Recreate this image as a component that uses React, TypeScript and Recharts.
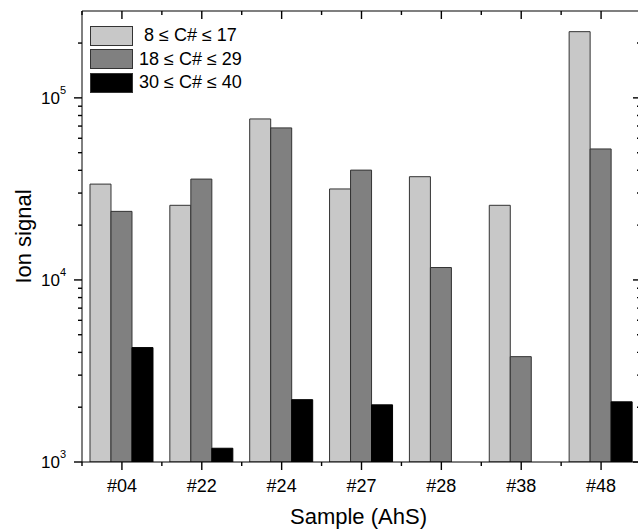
import { BarChart, Bar, XAxis, YAxis, Legend } from 'recharts'

const samples = ['#04', '#22', '#24', '#27', '#28', '#38', '#48']
const shortChain = [33600, 25700, 76600, 31600, 36900, 25700, 231000]
const midChain = [23800, 35800, 68400, 40100, 11700, 3790, 52400]
const longChain = [4250, 1190, 2200, 2060, null, null, 2140]

const seriesNames = [' 8 \u2264 C# \u2264 17', '18 \u2264 C# \u2264 29', '30 \u2264 C# \u2264 40']
const seriesColors = ['#c8c8c8', '#808080', '#000000']

const yTicks = [
  1000, 2000, 3000, 4000, 5000, 6000, 7000, 8000, 9000,
  10000, 20000, 30000, 40000, 50000, 60000, 70000, 80000, 90000,
  100000, 200000,
]

const data = samples.map((name, i) => ({
  name,
  s1: shortChain[i],
  s2: midChain[i],
  s3: longChain[i],
}))

const FONT = 'Arial, "Liberation Sans", sans-serif'
const PLOT_LEFT = 82
const PLOT_RIGHT = 641
const PLOT_TOP = 11
const PLOT_BOTTOM = 462
const BAND = (PLOT_RIGHT - PLOT_LEFT) / samples.length

const isMajor = (v: number) => {
  const e = Math.round(Math.log10(v))
  return Math.abs(Math.pow(10, e) - v) < 1e-6
}

// left axis tick + mirrored right tick, title drawn once
const LeftTick = (props: any) => {
  const { x, y, payload, index } = props
  const v = payload.value
  const major = isMajor(v)
  const len = major ? 8 : 4
  const exp = Math.round(Math.log10(v))
  const cy = (PLOT_TOP + PLOT_BOTTOM) / 2
  return (
    <g>
      <line x1={x - len} x2={x} y1={y} y2={y} stroke="#000" strokeWidth={1.4} />
      <line x1={PLOT_RIGHT - len} x2={PLOT_RIGHT} y1={y} y2={y} stroke="#000" strokeWidth={1.4} />
      {major && (
        <text x={x - 16} y={y + 6} textAnchor="end" fontSize={17} fontFamily={FONT} fill="#000">
          10<tspan fontSize={11} dy={-10}>{exp}</tspan>
        </text>
      )}
      {index === 0 && (
        <g>
          <line x1={PLOT_RIGHT} x2={PLOT_RIGHT} y1={PLOT_TOP} y2={PLOT_BOTTOM} stroke="#000" strokeWidth={1.2} />
          <text
            x={23}
            y={cy}
            transform={`rotate(-90, 23, ${cy})`}
            textAnchor="middle"
            dominantBaseline="central"
            fontSize={22}
            fontFamily={FONT}
            fill="#000"
          >
            Ion signal
          </text>
        </g>
      )}
    </g>
  )
}

// bottom axis tick + mirrored top tick, title drawn once
const BottomTick = (props: any) => {
  const { x, y, payload, index } = props
  return (
    <g>
      <line x1={x} x2={x} y1={y} y2={y + 8} stroke="#000" strokeWidth={1.4} />
      <line x1={x - BAND / 2} x2={x - BAND / 2} y1={y} y2={y + 4} stroke="#000" strokeWidth={1.4} />
      <line x1={x} x2={x} y1={PLOT_TOP} y2={PLOT_TOP + 8} stroke="#000" strokeWidth={1.4} />
      <line x1={x - BAND / 2} x2={x - BAND / 2} y1={PLOT_TOP} y2={PLOT_TOP + 4} stroke="#000" strokeWidth={1.4} />
      <text x={x} y={y + 30} textAnchor="middle" fontSize={18} fontFamily={FONT} fill="#000">
        {payload.value}
      </text>
      {index === 0 && (
        <g>
          <line x1={PLOT_LEFT} x2={PLOT_RIGHT} y1={PLOT_TOP} y2={PLOT_TOP} stroke="#000" strokeWidth={1.2} />
          <text
            x={(PLOT_LEFT + PLOT_RIGHT) / 2 - 3}
            y={524}
            textAnchor="middle"
            fontSize={22}
            fontFamily={FONT}
            fill="#000"
          >
            Sample (AhS)
          </text>
        </g>
      )}
    </g>
  )
}

const LegendBox = () => (
  <div style={{ fontFamily: FONT, fontSize: 18, color: '#000' }}>
    {seriesNames.map((n, i) => (
      <div key={n} style={{ display: 'flex', alignItems: 'center', height: 23.5 }}>
        <div
          style={{
            width: 41,
            height: 18,
            background: seriesColors[i],
            border: '1px solid #333',
            marginRight: 6,
          }}
        />
        <span style={{ whiteSpace: 'pre' }}>{n}</span>
      </div>
    ))}
  </div>
)

export default function App() {
  return (
    <div style={{ position: 'absolute', left: 0, top: 0, width: 638, height: 531, overflow: 'hidden', background: '#fff' }}>
      <BarChart
        width={642}
        height={531}
        data={data}
        margin={{ top: PLOT_TOP, right: 1, bottom: 0, left: 0 }}
        barCategoryGap="10%"
        barGap={0}
      >
        <XAxis
          dataKey="name"
          height={69}
          interval={0}
          tickLine={false}
          tickSize={0}
          tickMargin={0}
          tick={<BottomTick />}
          axisLine={{ stroke: '#000' }}
        />
        <YAxis
          scale="log"
          type="number"
          domain={[1000, 300000]}
          allowDataOverflow
          ticks={yTicks}
          interval={0}
          width={PLOT_LEFT}
          tickLine={false}
          tickSize={0}
          tickMargin={0}
          tick={<LeftTick />}
          axisLine={{ stroke: '#000' }}
        />
        <Legend
          layout="vertical"
          align="center"
          verticalAlign="middle"
          content={<LegendBox />}
          wrapperStyle={{ position: 'absolute', left: 90, top: 24, width: 200, height: 72 }}
        />
        <Bar dataKey="s1" name={seriesNames[0]} fill={seriesColors[0]} stroke="#333" isAnimationActive={false} />
        <Bar dataKey="s2" name={seriesNames[1]} fill={seriesColors[1]} stroke="#333" isAnimationActive={false} />
        <Bar dataKey="s3" name={seriesNames[2]} fill={seriesColors[2]} stroke="#000" isAnimationActive={false} />
      </BarChart>
    </div>
  )
}
